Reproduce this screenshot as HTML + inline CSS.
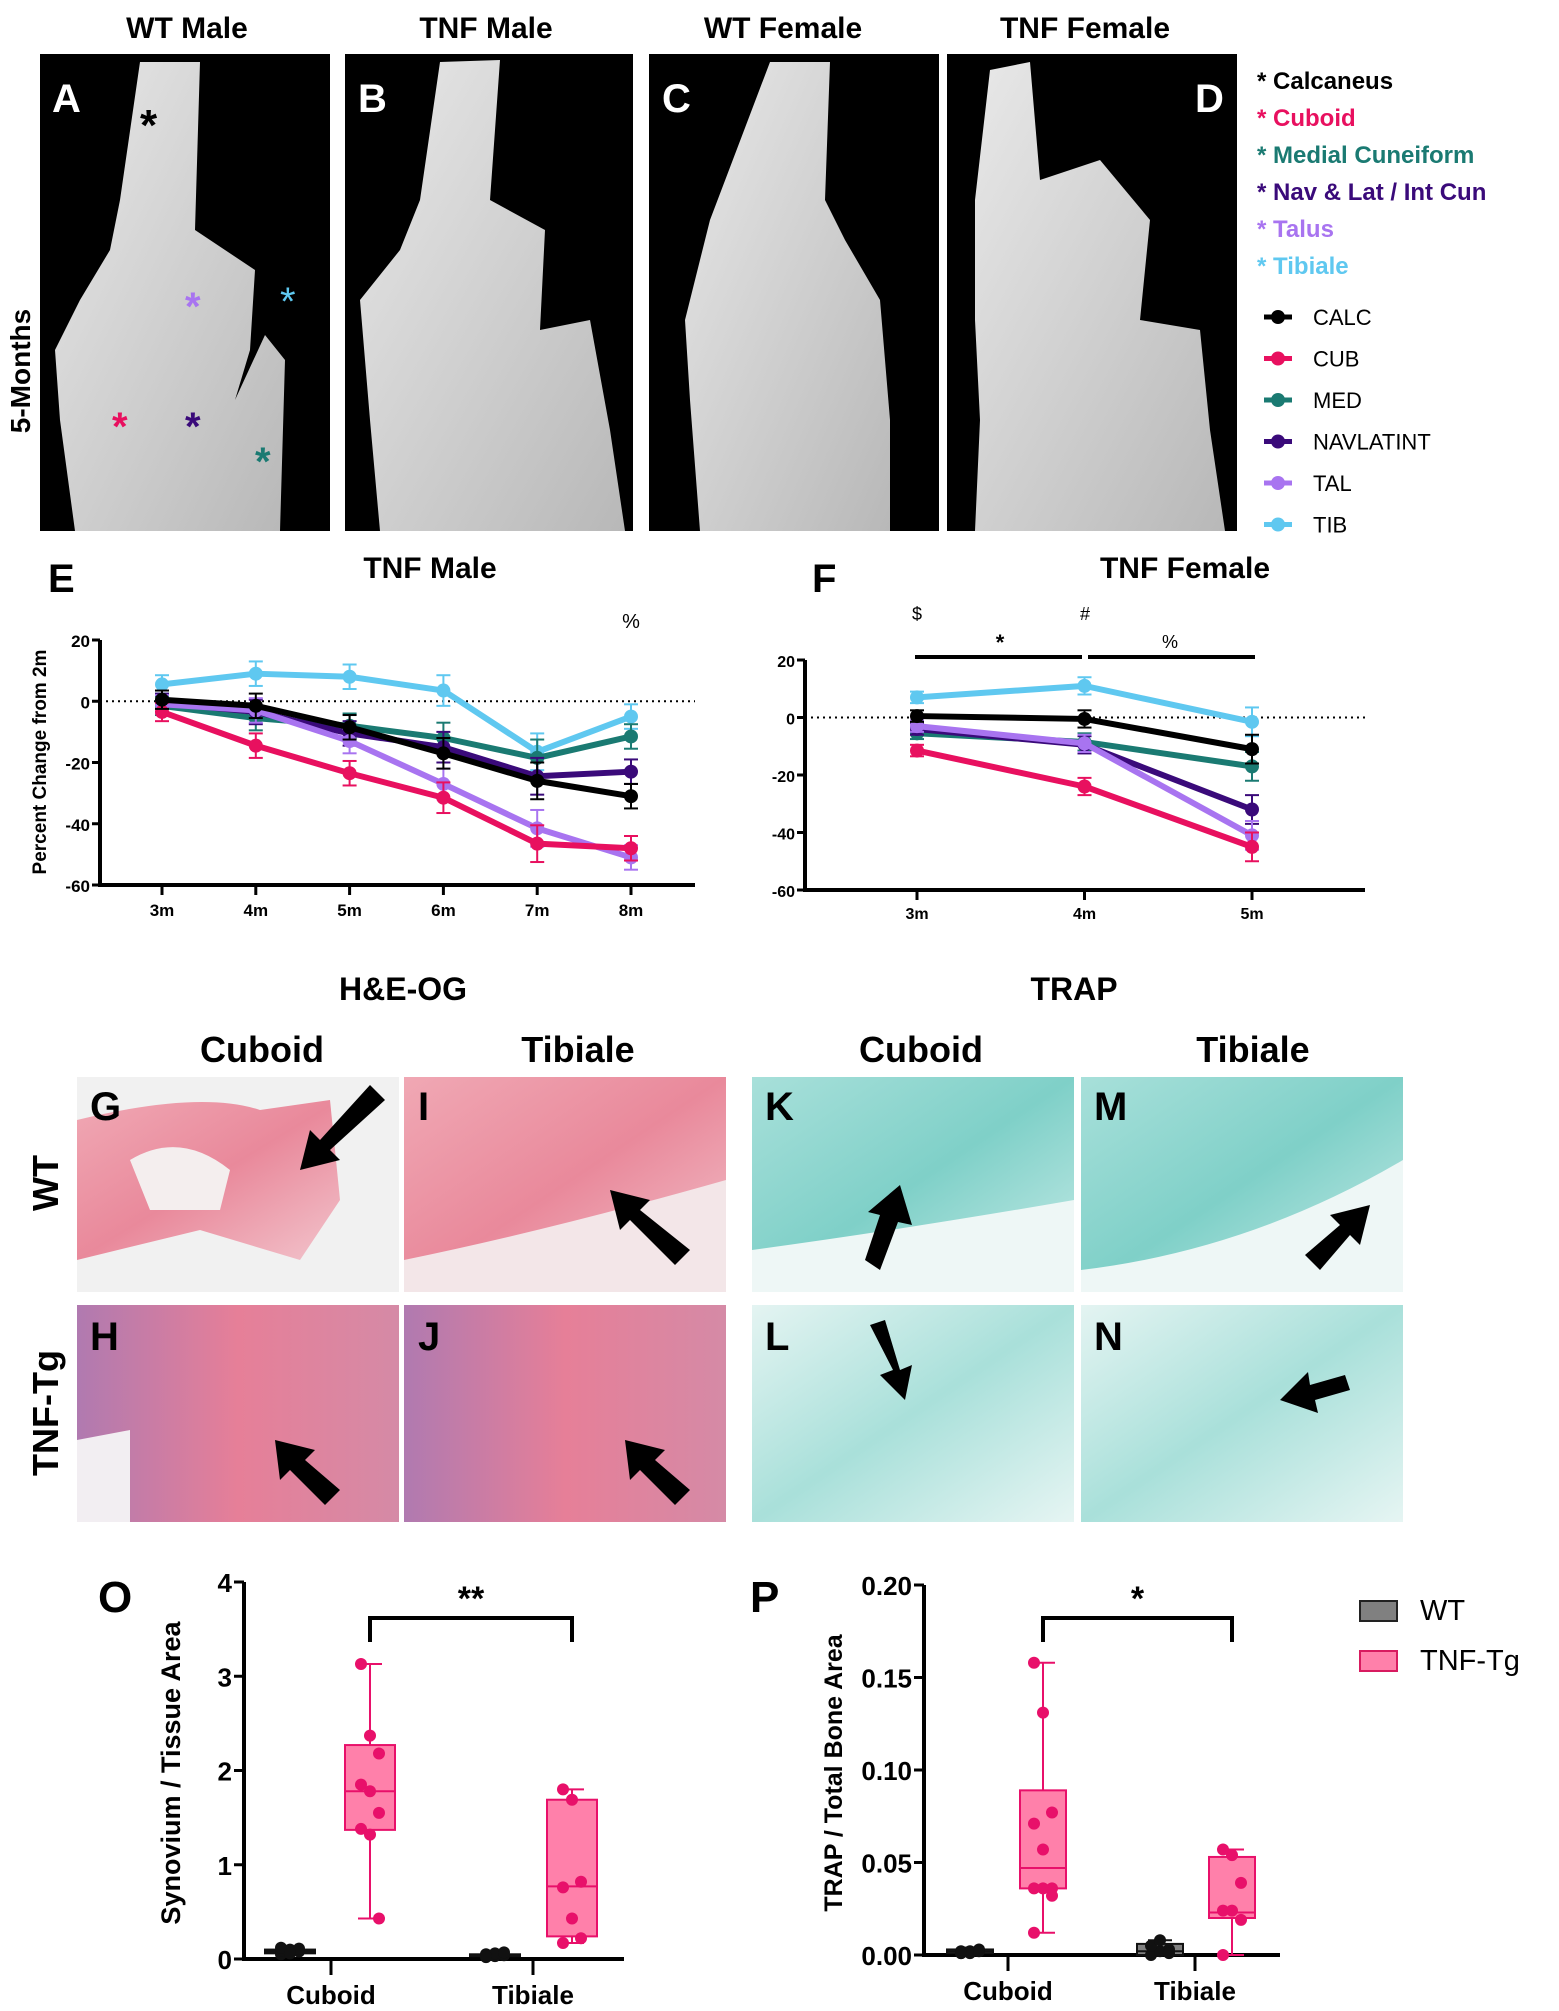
<!DOCTYPE html>
<html><head><meta charset="utf-8">
<style>
html,body{margin:0;padding:0;background:#fff;}
svg{display:block;font-family:"Liberation Sans",Arial,sans-serif;}
</style></head>
<body>
<svg id="fig" width="1559" height="2011" viewBox="0 0 1559 2011" xmlns="http://www.w3.org/2000/svg">
<defs>
<linearGradient id="bone" x1="0" y1="0" x2="1" y2="1"><stop offset="0" stop-color="#e8e8e8"/><stop offset="1" stop-color="#b8b8b8"/></linearGradient>
<linearGradient id="he1" x1="0" y1="0" x2="1" y2="1"><stop offset="0" stop-color="#f0a8b4"/><stop offset="0.5" stop-color="#e9899b"/><stop offset="1" stop-color="#f2c4cc"/></linearGradient>
<linearGradient id="he2" x1="0" y1="0" x2="1" y2="0"><stop offset="0" stop-color="#b07ab0"/><stop offset="0.5" stop-color="#e67f98"/><stop offset="1" stop-color="#d58aa6"/></linearGradient>
<linearGradient id="tr1" x1="0" y1="0" x2="1" y2="1"><stop offset="0" stop-color="#a8e0da"/><stop offset="0.5" stop-color="#7fd0c8"/><stop offset="1" stop-color="#c9ece8"/></linearGradient>
<linearGradient id="tr2" x1="0" y1="0" x2="1" y2="1"><stop offset="0" stop-color="#e4f4f2"/><stop offset="0.5" stop-color="#a9e0da"/><stop offset="1" stop-color="#e6f5f3"/></linearGradient>
</defs>

<g>
<text x="187" y="38" font-size="30" font-weight="bold" text-anchor="middle">WT Male</text>
<text x="486" y="38" font-size="30" font-weight="bold" text-anchor="middle">TNF Male</text>
<text x="783" y="38" font-size="30" font-weight="bold" text-anchor="middle">WT Female</text>
<text x="1085" y="38" font-size="30" font-weight="bold" text-anchor="middle">TNF Female</text>
<text transform="translate(30,371) rotate(-90)" font-size="28" font-weight="bold" text-anchor="middle">5-Months</text>

<g>
<rect x="40" y="54" width="290" height="477" fill="#000"/>
<path d="M140 62 L200 62 L195 230 L255 270 L250 350 L235 400 L265 335 L285 360 L280 531 L75 531 L60 420 L55 350 L80 300 L110 250 L120 200 Z" fill="url(#bone)"/>
<text x="52" y="112" font-size="40" font-weight="bold" fill="#fff">A</text>
<text x="140" y="140" font-size="44" font-weight="bold" fill="#000">*</text>
<text x="185" y="320" font-size="40" font-weight="bold" fill="#a874f0">*</text>
<text x="280" y="315" font-size="40" fill="#5fc8f0">*</text>
<text x="112" y="440" font-size="40" font-weight="bold" fill="#e8105f">*</text>
<text x="185" y="440" font-size="40" font-weight="bold" fill="#3a0a7a">*</text>
<text x="255" y="475" font-size="40" font-weight="bold" fill="#1a7a72">*</text>
</g>
<g>
<rect x="345" y="54" width="288" height="477" fill="#000"/>
<path d="M440 62 L500 60 L490 200 L545 230 L540 330 L590 320 L610 430 L625 531 L380 531 L370 420 L360 300 L400 250 L420 200 Z" fill="url(#bone)"/>
<text x="358" y="112" font-size="40" font-weight="bold" fill="#fff">B</text>
</g>
<g>
<rect x="649" y="54" width="290" height="477" fill="#000"/>
<path d="M770 62 L830 62 L825 200 L845 240 L880 300 L890 420 L890 531 L700 531 L690 400 L685 320 L710 220 Z" fill="url(#bone)"/>
<text x="662" y="112" font-size="40" font-weight="bold" fill="#fff">C</text>
</g>
<g>
<rect x="947" y="54" width="290" height="477" fill="#000"/>
<path d="M990 70 L1030 62 L1040 180 L1100 160 L1150 220 L1140 320 L1200 330 L1210 430 L1225 531 L975 531 L980 420 L975 320 L975 200 Z" fill="url(#bone)"/>
<text x="1195" y="112" font-size="40" font-weight="bold" fill="#fff">D</text>
</g>
</g>

<g font-size="24" font-weight="bold">
<text x="1257" y="89" fill="#000">* Calcaneus</text>
<text x="1257" y="126" fill="#e8105f">* Cuboid</text>
<text x="1257" y="163" fill="#1a7a72">* Medial Cuneiform</text>
<text x="1257" y="200" fill="#3a0a7a">* Nav &amp; Lat / Int Cun</text>
<text x="1257" y="237" fill="#a874f0">* Talus</text>
<text x="1257" y="274" fill="#5fc8f0">* Tibiale</text>
</g>
<g id="lineLegend"></g>

<text x="48" y="592" font-size="40" font-weight="bold">E</text>
<text x="430" y="578" font-size="30" font-weight="bold" text-anchor="middle">TNF Male</text>
<text x="812" y="592" font-size="40" font-weight="bold">F</text>
<text x="1185" y="578" font-size="30" font-weight="bold" text-anchor="middle">TNF Female</text>
<text transform="translate(46,762) rotate(-90)" font-size="19" font-weight="bold" text-anchor="middle">Percent Change from 2m</text>
<g id="chartE"></g>
<g id="chartF"></g>

<g>
<text x="403" y="1000" font-size="32" font-weight="bold" text-anchor="middle">H&amp;E-OG</text>
<text x="1074" y="1000" font-size="32" font-weight="bold" text-anchor="middle">TRAP</text>
<text x="262" y="1062" font-size="36" font-weight="bold" text-anchor="middle">Cuboid</text>
<text x="578" y="1062" font-size="36" font-weight="bold" text-anchor="middle">Tibiale</text>
<text x="921" y="1062" font-size="36" font-weight="bold" text-anchor="middle">Cuboid</text>
<text x="1253" y="1062" font-size="36" font-weight="bold" text-anchor="middle">Tibiale</text>
<text transform="translate(58,1183) rotate(-90)" font-size="36" font-weight="bold" text-anchor="middle">WT</text>
<text transform="translate(58,1413) rotate(-90)" font-size="36" font-weight="bold" text-anchor="middle">TNF-Tg</text>

<rect x="77" y="1077" width="322" height="215" fill="#f1f1f1"/>
<path d="M77 1120 Q200 1090 260 1110 L330 1100 L340 1200 L300 1260 L200 1230 L77 1260 Z" fill="url(#he1)"/>
<path d="M130 1160 Q180 1130 230 1170 L220 1210 L150 1210 Z" fill="#f4eeee"/>
<rect x="404" y="1077" width="322" height="215" fill="url(#he1)"/>
<path d="M404 1260 Q550 1230 726 1180 L726 1292 L404 1292 Z" fill="#f3e6e8"/>
<rect x="752" y="1077" width="322" height="215" fill="url(#tr1)"/>
<path d="M752 1250 Q900 1230 1074 1200 L1074 1292 L752 1292 Z" fill="#eef7f6"/>
<rect x="1081" y="1077" width="322" height="215" fill="url(#tr1)"/>
<path d="M1081 1270 Q1250 1250 1403 1160 L1403 1292 L1081 1292 Z" fill="#eef7f6"/>

<rect x="77" y="1305" width="322" height="217" fill="url(#he2)"/>
<path d="M77 1440 L130 1430 L130 1522 L77 1522 Z" fill="#f2eef2"/>
<rect x="404" y="1305" width="322" height="217" fill="url(#he2)"/>
<rect x="752" y="1305" width="322" height="217" fill="url(#tr2)"/>
<rect x="1081" y="1305" width="322" height="217" fill="url(#tr2)"/>

<g font-size="40" font-weight="bold">
<text x="90" y="1120">G</text><text x="418" y="1120">I</text><text x="765" y="1120">K</text><text x="1094" y="1120">M</text>
<text x="90" y="1350">H</text><text x="418" y="1350">J</text><text x="765" y="1350">L</text><text x="1094" y="1350">N</text>
</g>
<g fill="#000">
<polygon points="370,1085 385,1100 330,1150 340,1160 300,1170 310,1130 320,1140"/>
<polygon points="690,1250 675,1265 630,1220 620,1230 610,1190 650,1200 640,1210"/>
<polygon points="880,1270 865,1260 880,1215 868,1212 900,1185 912,1225 898,1222"/>
<polygon points="1320,1270 1305,1255 1340,1225 1330,1215 1370,1205 1360,1245 1350,1235"/>
<polygon points="340,1490 325,1505 290,1470 280,1480 275,1440 315,1450 305,1460"/>
<polygon points="690,1490 675,1505 640,1470 630,1480 625,1440 665,1450 655,1460"/>
<polygon points="870,1325 885,1320 900,1370 912,1365 905,1400 880,1375 893,1370"/>
<polygon points="1350,1390 1345,1375 1310,1385 1308,1372 1280,1400 1318,1413 1315,1400"/>
</g>
</g>

<text x="98" y="1612" font-size="44" font-weight="bold">O</text>
<text x="750" y="1612" font-size="44" font-weight="bold">P</text>
<text transform="translate(180,1773) rotate(-90)" font-size="27" font-weight="bold" text-anchor="middle">Synovium / Tissue Area</text>
<text transform="translate(842,1773) rotate(-90)" font-size="25" font-weight="bold" text-anchor="middle">TRAP / Total Bone Area</text>
<g id="chartO"></g>
<g id="chartP"></g>
<g>
<rect x="1360" y="1601" width="37" height="20" fill="#808080" stroke="#222" stroke-width="2"/>
<text x="1420" y="1620" font-size="29">WT</text>
<rect x="1360" y="1651" width="37" height="20" fill="#ff80aa" stroke="#d81b60" stroke-width="2"/>
<text x="1420" y="1670" font-size="29">TNF-Tg</text>
</g>
</svg>
<script>
const NS='http://www.w3.org/2000/svg';
const seriesNames=['CALC','CUB','MED','NAVLATINT','TAL','TIB'];
const seriesColors=['#000000','#e8105f','#1a7a72','#3a0a7a','#a874f0','#5fc8f0'];
const maleCats=['3m','4m','5m','6m','7m','8m'];
const maleCALC=[0.5,-1.5,-8.5,-17,-26,-31];
const maleCUB=[-3.5,-14.5,-23.5,-31.5,-46.5,-48];
const maleMED=[-1.5,-5.5,-8,-12,-18.5,-11.5];
const maleNAV=[-0.5,-3.5,-10.5,-15,-24.5,-23];
const maleTAL=[-1,-3,-13,-27,-41.5,-51];
const maleTIB=[5.5,9,8,3.5,-16.5,-5];
const maleErr=[3,4,4,5,6,4];
const femaleCats=['3m','4m','5m'];
const femaleCALC=[0.5,-0.5,-11];
const femaleCUB=[-11.5,-24,-45];
const femaleMED=[-5.5,-8.5,-17];
const femaleNAV=[-4,-9.5,-32];
const femaleTAL=[-3,-9,-41];
const femaleTIB=[7,11,-1.5];
const femaleErr=[2,3,5];
const yTicksEF=[20,0,-20,-40,-60];
const boxCats=['Cuboid','Tibiale'];
const oTicks=[0,1,2,3,4];
const oWT=[[0.05,0.07,0.08,0.09,0.1,0.11,0.12,0.06],[0.02,0.03,0.04,0.05,0.06,0.07,0.03]];
const oTNF=[[3.13,2.37,2.18,1.85,1.78,1.55,1.38,1.32,0.43],[1.8,1.69,0.82,0.76,0.43,0.22,0.17]];
const oTNFbox=[[0.43,1.37,1.78,2.27,3.13],[0.17,0.24,0.77,1.69,1.8]];
const oWTbox=[[0.05,0.06,0.08,0.1,0.12],[0.02,0.03,0.04,0.05,0.07]];
const pTicks=[0,0.05,0.10,0.15,0.20];
const pTickLabels=['0.00','0.05','0.10','0.15','0.20'];
const pWT=[[0.001,0.002,0.003,0.002,0.001,0.002,0.001],[0,0.002,0.003,0.005,0.008,0.001]];
const pTNF=[[0.158,0.131,0.077,0.071,0.057,0.036,0.036,0.036,0.032,0.012],[0.057,0.054,0.039,0.024,0.024,0.019,0]];
const pTNFbox=[[0.012,0.036,0.047,0.089,0.158],[0,0.02,0.023,0.053,0.057]];
const pWTbox=[[0.001,0.001,0.002,0.003,0.004],[0,0,0.002,0.006,0.008]];

function mk(p,tag,a){const e=document.createElementNS(NS,tag);for(const k in a)e.setAttribute(k,a[k]);p.appendChild(e);return e;}

(function(){const g=document.getElementById('lineLegend');
seriesNames.forEach((n,i)=>{const y=317+i*41.5;
const l=mk(g,'line',{x1:1264,x2:1292,y1:y,y2:y,stroke:seriesColors[i],'stroke-width':5});


mk(g,'circle',{cx:1278,cy:y,r:7,fill:seriesColors[i]});
const t=mk(g,'text',{x:1313,y:y+8,'font-size':22});t.textContent=n;

});})();

function lineChart(id,cats,series,err,x0,xs,y20,ym60,axEnd,labY,fs){
 const g=document.getElementById(id);
 const yS=v=>y20+(20-v)/80*(ym60-y20);
 const xS=i=>xs[0]+i*(xs[1]-xs[0]);
 mk(g,'line',{x1:x0,x2:x0,y1:y20,y2:ym60+2,stroke:'#000','stroke-width':4});
 mk(g,'line',{x1:x0-2,x2:axEnd,y1:ym60,y2:ym60,stroke:'#000','stroke-width':4});
 mk(g,'line',{x1:x0,x2:axEnd,y1:yS(0),y2:yS(0),stroke:'#000','stroke-width':2,'stroke-dasharray':'2,4'});
 yTicksEF.forEach(v=>{mk(g,'line',{x1:x0-8,x2:x0,y1:yS(v),y2:yS(v),stroke:'#000','stroke-width':3});
  const t=mk(g,'text',{x:x0-10,y:yS(v)+7,'font-size':fs,'font-weight':'bold','text-anchor':'end'});t.textContent=v;
  
  });
 cats.forEach((c,i)=>{mk(g,'line',{x1:xS(i),x2:xS(i),y1:ym60,y2:ym60+10,stroke:'#000','stroke-width':3});
  const t=mk(g,'text',{x:xS(i),y:labY,'font-size':fs,'font-weight':'bold','text-anchor':'middle'});t.textContent=c;
  
  });
 const order=[5,2,3,4,1,0];
 order.forEach(si=>{const vals=series[si];const col=seriesColors[si];
  const sg=mk(g,'g',{});
  
  
  vals.forEach((v,i)=>{const e=err[i];mk(sg,'line',{x1:xS(i),x2:xS(i),y1:yS(v+e),y2:yS(v-e),stroke:col,'stroke-width':2});
   [v+e,v-e].forEach(w=>mk(sg,'line',{x1:xS(i)-7,x2:xS(i)+7,y1:yS(w),y2:yS(w),stroke:col,'stroke-width':2}));});
  mk(sg,'polyline',{points:vals.map((v,i)=>xS(i)+','+yS(v)).join(' '),fill:'none',stroke:col,'stroke-width':6,'stroke-linejoin':'round'});
  vals.forEach((v,i)=>{const c=mk(sg,'circle',{cx:xS(i),cy:yS(v),r:7,fill:col});
   
   });
 });
 return {xS,yS,g};
}
lineChart('chartE',maleCats,[maleCALC,maleCUB,maleMED,maleNAV,maleTAL,maleTIB],maleErr,100,[162,255.8],640,885,695,916,17);
const F=lineChart('chartF',femaleCats,[femaleCALC,femaleCUB,femaleMED,femaleNAV,femaleTAL,femaleTIB],femaleErr,805,[917,1084.5],660,890,1365,919,16);
(function(){const g=document.getElementById('chartE');const t=mk(g,'text',{x:631,y:628,'font-size':20,'text-anchor':'middle'});t.textContent='%';
const f=F.g;
[['$',917,620],['#',1085,620],['*',1000,650],['%',1170,648]].forEach(a=>{const t=mk(f,'text',{x:a[1],y:a[2],'font-size':a[0]=='*'?22:18,'font-weight':a[0]=='*'?'bold':'normal','text-anchor':'middle'});t.textContent=a[0];});
mk(f,'line',{x1:915,x2:1082,y1:657,y2:657,stroke:'#000','stroke-width':4});
mk(f,'line',{x1:1088,x2:1255,y1:657,y2:657,stroke:'#000','stroke-width':4});})();

function boxChart(id,ticks,labels,max,x0,axEnd,yTop,y0,catX,wtX,tnfX,bw,wtPts,tnfPts,wtBox,tnfBox,br,star,fs){
 const g=document.getElementById(id);
 const yS=v=>y0-v/max*(y0-yTop);
 mk(g,'line',{x1:x0,x2:x0,y1:yTop,y2:y0,stroke:'#000','stroke-width':4});
 mk(g,'line',{x1:x0-2,x2:axEnd,y1:y0,y2:y0,stroke:'#000','stroke-width':4});
 ticks.forEach((v,i)=>{mk(g,'line',{x1:x0-10,x2:x0,y1:yS(v),y2:yS(v),stroke:'#000','stroke-width':3});
  const t=mk(g,'text',{x:x0-12,y:yS(v)+10,'font-size':fs,'font-weight':'bold','text-anchor':'end'});t.textContent=labels[i];
  
  });
 boxCats.forEach((c,i)=>{mk(g,'line',{x1:catX[i],x2:catX[i],y1:y0,y2:y0+16,stroke:'#000','stroke-width':3});
  const t=mk(g,'text',{x:catX[i],y:y0+45,'font-size':26,'font-weight':'bold','text-anchor':'middle'});t.textContent=c;
  
  });
 function box(cx,b,pts,fill,stroke,name){
  const bg=mk(g,'g',{});
  
  
  mk(bg,'line',{x1:cx,x2:cx,y1:yS(b[0]),y2:yS(b[4]),stroke:stroke,'stroke-width':2});
  [b[0],b[4]].forEach(w=>mk(bg,'line',{x1:cx-12,x2:cx+12,y1:yS(w),y2:yS(w),stroke:stroke,'stroke-width':2}));
  mk(bg,'rect',{x:cx-bw/2,y:yS(b[3]),width:bw,height:Math.max(1,yS(b[1])-yS(b[3])),fill:fill,stroke:stroke,'stroke-width':2});
  mk(bg,'line',{x1:cx-bw/2,x2:cx+bw/2,y1:yS(b[2]),y2:yS(b[2]),stroke:stroke,'stroke-width':2});
  pts.forEach((v,k)=>{const off=((k%3)-1)*9;const p=mk(bg,'circle',{cx:cx+off,cy:yS(v),r:6,fill:stroke});
   
   });
 }
 for(let i=0;i<2;i++){box(wtX[i],wtBox[i],wtPts[i],'#808080','#111','box-wt-'+boxCats[i].toLowerCase());
  box(tnfX[i],tnfBox[i],tnfPts[i],'#ff80aa','#e8106a','box-tnf-'+boxCats[i].toLowerCase());}
 mk(g,'polyline',{points:`${tnfX[0]},${br+24} ${tnfX[0]},${br} ${tnfX[1]},${br} ${tnfX[1]},${br+24}`,fill:'none',stroke:'#000','stroke-width':4});
 const t=mk(g,'text',{x:(tnfX[0]+tnfX[1])/2,y:br-8,'font-size':34,'font-weight':'bold','text-anchor':'middle'});t.textContent=star;
}
boxChart('chartO',oTicks,oTicks.map(String),4,244,624,1582,1959,[331,533],[290,495],[370,572],50,oWT,oTNF,oWTbox,oTNFbox,1618,'**',26);
boxChart('chartP',pTicks,pTickLabels,0.2,924,1280,1585,1955,[1008,1195],[970,1160],[1043,1232],46,pWT,pTNF,pWTbox,pTNFbox,1618,'*',26);
</script>
</body></html>
